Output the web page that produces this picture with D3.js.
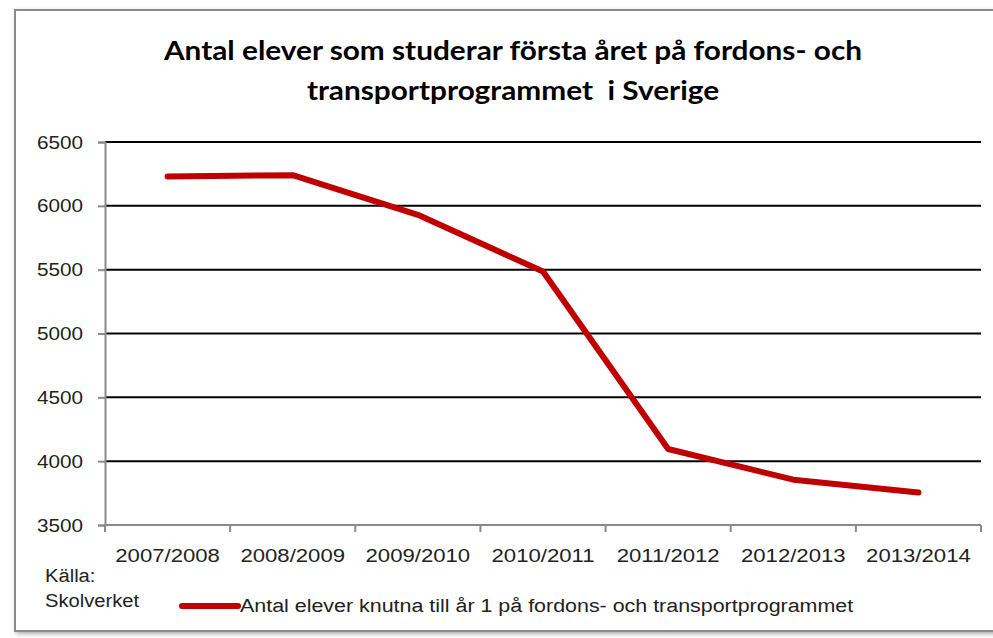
<!DOCTYPE html>
<html>
<head>
<meta charset="utf-8">
<script src="https://cdn.jsdelivr.net/npm/d3@7"></script>
<style>
  body { margin: 0; background: #fff; overflow: hidden; }
  text { white-space: pre; }
</style>
</head>
<body>
<div id="chart"></div>
<script>
const years = ['2007/2008', '2008/2009', '2009/2010', '2010/2011', '2011/2012', '2012/2013', '2013/2014'];
const students = [6230, 6240, 5930, 5485, 4095, 3855, 3755];
const yTicks = [3500, 4000, 4500, 5000, 5500, 6000, 6500];
const titleLines = ['Antal elever som studerar första året på fordons- och', 'transportprogrammet  i Sverige'];
const seriesName = 'Antal elever knutna till år 1 på fordons- och transportprogrammet';
const sourceLines = ['Källa:', 'Skolverket'];

const width = 993, height = 638;
const margin = { top: 142, right: 12, bottom: 113, left: 105 };

// the original export is a bit stretched sideways, so widen glyphs to match
function stretch(sel, k) {
  sel.each(function () {
    const w = this.getComputedTextLength();
    d3.select(this)
      .attr('textLength', w * k)
      .attr('lengthAdjust', 'spacingAndGlyphs');
  });
}

const svg = d3.select('#chart')
  .append('svg')
  .attr('width', width)
  .attr('height', height);

// frame with a soft shadow
const defs = svg.append('defs');
const shadow = defs.append('filter').attr('id', 'shadow')
  .attr('x', '-5%').attr('y', '-5%').attr('width', '110%').attr('height', '110%');
shadow.append('feDropShadow')
  .attr('dx', 2).attr('dy', 2).attr('stdDeviation', 2)
  .attr('flood-color', '#777').attr('flood-opacity', 0.6);

svg.append('rect')
  .attr('x', 15).attr('y', 10)
  .attr('width', 1100).attr('height', 621)
  .attr('fill', '#fff')
  .attr('stroke', '#8a8a8a')
  .attr('stroke-width', 2)
  .attr('filter', 'url(#shadow)');

// title
svg.append('g')
  .selectAll('text')
  .data(titleLines)
  .enter().append('text')
  .attr('x', 513)
  .attr('y', (d, i) => 60 + i * 40)
  .attr('text-anchor', 'middle')
  .style('font-family', 'Lato, sans-serif')
  .style('font-weight', 'bold')
  .style('font-size', '26px')
  .style('fill', '#000')
  .text(d => d)
  .call(stretch, 1.145);

const x = d3.scaleBand()
  .domain(years)
  .range([margin.left, width - margin.right]);

const y = d3.scaleLinear()
  .domain([3500, 6500])
  .range([height - margin.bottom, margin.top]);

// horizontal gridlines
svg.append('g')
  .selectAll('line')
  .data(yTicks.filter(d => d > 3500))
  .enter().append('line')
  .attr('x1', margin.left)
  .attr('x2', width - margin.right)
  .attr('y1', d => y(d))
  .attr('y2', d => y(d))
  .attr('stroke', '#000')
  .attr('stroke-width', 2);

// y axis
const yAxis = svg.append('g')
  .attr('transform', `translate(${margin.left},0)`)
  .call(d3.axisLeft(y).tickValues(yTicks).tickSize(7).tickPadding(15).tickFormat(d3.format('d')));
yAxis.select('.domain').attr('stroke', '#8a8a8a').attr('stroke-width', 2);
yAxis.selectAll('.tick line').attr('stroke', '#8a8a8a').attr('stroke-width', 2);
yAxis.selectAll('text')
  .style('font-family', '"Liberation Sans", Arial, sans-serif')
  .style('font-size', '19px')
  .style('fill', '#222')
  .call(stretch, 1.09);

// x axis: labels centred in bands, ticks on band edges
const xAxis = svg.append('g')
  .attr('transform', `translate(0,${height - margin.bottom})`)
  .call(d3.axisBottom(x).tickSize(0).tickPadding(24));
xAxis.select('.domain').remove();
xAxis.selectAll('text')
  .style('font-family', '"Liberation Sans", Arial, sans-serif')
  .style('font-size', '19px')
  .style('fill', '#222')
  .call(stretch, 1.165);

const edges = years.map(d => x(d)).concat([x.range()[1]]);
svg.append('line')
  .attr('x1', margin.left).attr('x2', width - margin.right)
  .attr('y1', y(3500)).attr('y2', y(3500))
  .attr('stroke', '#8a8a8a').attr('stroke-width', 2);
svg.append('g')
  .selectAll('line')
  .data(edges)
  .enter().append('line')
  .attr('x1', d => d).attr('x2', d => d)
  .attr('y1', y(3500)).attr('y2', y(3500) + 7)
  .attr('stroke', '#8a8a8a').attr('stroke-width', 2);

// series line
const line = d3.line()
  .x((d, i) => x(years[i]) + x.bandwidth() / 2)
  .y(d => y(d));

svg.append('path')
  .datum(students)
  .attr('d', line)
  .attr('fill', 'none')
  .attr('stroke', '#c00000')
  .attr('stroke-width', 6)
  .attr('stroke-linejoin', 'round')
  .attr('stroke-linecap', 'round');

// source note
svg.append('g')
  .selectAll('text')
  .data(sourceLines)
  .enter().append('text')
  .attr('x', 45)
  .attr('y', (d, i) => 582 + i * 25)
  .style('font-family', '"Liberation Sans", Arial, sans-serif')
  .style('font-size', '18px')
  .style('fill', '#222')
  .text(d => d)
  .call(stretch, 1.12);

// legend
const legend = svg.append('g').attr('transform', 'translate(182,606)');
legend.append('line')
  .attr('x1', 0).attr('x2', 56)
  .attr('y1', 0).attr('y2', 0)
  .attr('stroke', '#c00000')
  .attr('stroke-width', 6)
  .attr('stroke-linecap', 'round');
legend.append('text')
  .attr('x', 58)
  .attr('y', 6)
  .style('font-family', '"Liberation Sans", Arial, sans-serif')
  .style('font-size', '18px')
  .style('fill', '#222')
  .text(seriesName)
  .call(stretch, 1.19);
</script>
</body>
</html>
